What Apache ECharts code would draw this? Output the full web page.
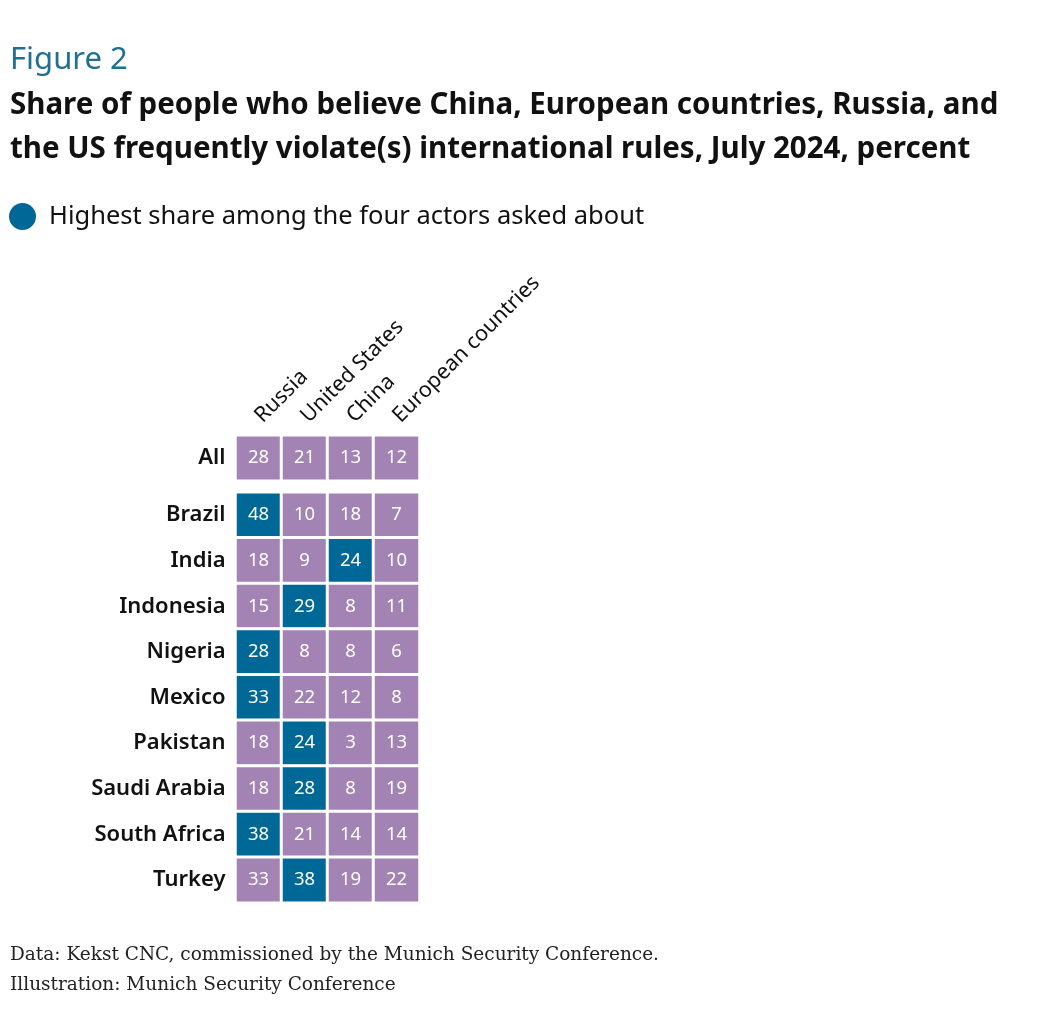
<!DOCTYPE html>
<html>
<head>
<meta charset="utf-8">
<script src="https://cdn.jsdelivr.net/npm/echarts@6/dist/echarts.min.js"></script>
<style>
  html, body { margin: 0; padding: 0; background: #fff; }
  #chart { width: 1048px; height: 1027px; }
</style>
</head>
<body>
<div id="chart"></div>
<script>
// actors asked about (columns)
var actors = ['Russia', 'United States', 'China', 'European countries'];
// overall row
var allLabel = ['All'];
var allValues = [28, 21, 13, 12];
// countries (rows)
var countries = ['Brazil', 'India', 'Indonesia', 'Nigeria', 'Mexico', 'Pakistan', 'Saudi Arabia', 'South Africa', 'Turkey'];
var russia   = [48, 18, 15, 28, 33, 18, 18, 38, 33];
var usa      = [10,  9, 29,  8, 22, 24, 28, 21, 38];
var china    = [18, 24,  8,  8, 12,  3,  8, 14, 19];
var europe   = [ 7, 10, 11,  6,  8, 13, 19, 14, 22];

var purple = '#a383b3';
var blue = '#006897';
var font = '"Noto Sans", "Open Sans", sans-serif';

var allData = allValues.map(function (v, i) {
    return [i, 0, v];
});

// blue cell = highest share in the country's row
var countryData = [];
countries.forEach(function (c, r) {
    var row = [russia[r], usa[r], china[r], europe[r]];
    var top = Math.max.apply(null, row);
    row.forEach(function (v, col) {
        countryData.push({
            value: [col, r, v],
            itemStyle: { color: v === top ? blue : purple }
        });
    });
});

var cellStyle = { color: purple, borderColor: '#fff', borderWidth: 3 };
var cellLabel = {
    show: true,
    color: '#fff',
    fontSize: 18.5,
    fontFamily: font,
    formatter: function (p) { return p.value[2]; }
};

var option = {
    backgroundColor: '#fff',
    animation: false,
    title: [
        { text: 'Figure 2', left: 10, top: 45, padding: 0,
          textStyle: { color: '#1f6f96', fontSize: 31, fontWeight: 'normal', fontFamily: font } },
        { text: 'Share of people who believe China, European countries, Russia, and\nthe US frequently violate(s) international rules, July 2024, percent',
          left: 10, top: 84, padding: 0,
          textStyle: { color: '#111', fontSize: 29.5, fontWeight: 'bold', fontFamily: font, lineHeight: 44 } },
        { text: 'Data: Kekst CNC, commissioned by the Munich Security Conference.\nIllustration: Munich Security Conference',
          left: 10, top: 940, padding: 0,
          textStyle: { color: '#222', fontSize: 18.5, fontWeight: 'normal', fontFamily: '"DejaVu Serif", "Liberation Serif", serif', lineHeight: 30 } }
    ],
    legend: {
        left: 9, top: 203, padding: 0,
        icon: 'circle', itemWidth: 27, itemHeight: 27, itemGap: 10,
        textStyle: { color: '#111', fontSize: 25.5, fontFamily: font, padding: [0, 0, 0, 8] },
        data: ['Highest share among the four actors asked about']
    },
    grid: [
        { left: 235.5, width: 184, top: 435.2, height: 45.6 },
        { left: 235.5, width: 184, top: 492.2, height: 410.6 }
    ],
    xAxis: [
        { type: 'category', gridIndex: 0, data: actors, position: 'top',
          axisLine: { show: false }, axisTick: { show: false }, splitLine: { show: false },
          axisLabel: { rotate: -45, margin: 16, color: '#111', fontSize: 21.5, fontFamily: font, interval: 0 } },
        { type: 'category', gridIndex: 1, data: actors, show: false }
    ],
    yAxis: [
        { type: 'category', gridIndex: 0, data: allLabel, inverse: true,
          axisLine: { show: false }, axisTick: { show: false },
          axisLabel: { margin: 10, color: '#111', fontSize: 22, fontWeight: 600, fontFamily: font } },
        { type: 'category', gridIndex: 1, data: countries, inverse: true,
          axisLine: { show: false }, axisTick: { show: false },
          axisLabel: { margin: 10, color: '#111', fontSize: 22, fontWeight: 600, fontFamily: font, interval: 0 } }
    ],
    series: [
        { type: 'heatmap', xAxisIndex: 0, yAxisIndex: 0, data: allData,
          itemStyle: cellStyle, label: cellLabel, emphasis: { disabled: true } },
        { type: 'heatmap', xAxisIndex: 1, yAxisIndex: 1, data: countryData,
          itemStyle: cellStyle, label: cellLabel, emphasis: { disabled: true } },
        { name: 'Highest share among the four actors asked about', type: 'scatter',
          xAxisIndex: 1, yAxisIndex: 1, data: [], itemStyle: { color: blue, opacity: 1 } }
    ]
};

var myChart = echarts.init(document.getElementById('chart'));
myChart.setOption(option);
</script>
</body>
</html>
